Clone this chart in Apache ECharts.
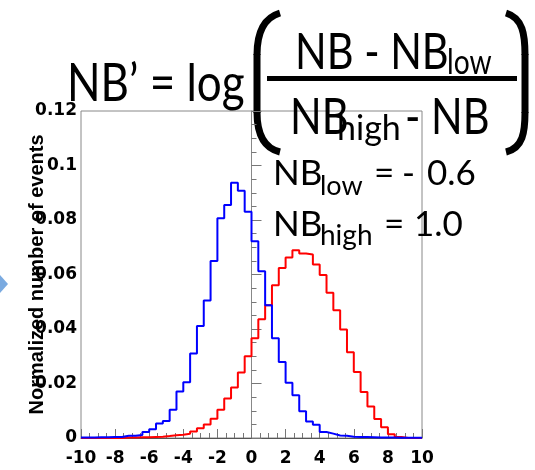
<!DOCTYPE html>
<html>
<head>
<meta charset="utf-8">
<script src="https://cdn.jsdelivr.net/npm/echarts@6/dist/echarts.min.js"></script>
<style>html,body{margin:0;padding:0;background:#fff;}#c{width:535px;height:470px;}</style>
</head>
<body>
<div id="c"></div>
<script>
// Bin edges of the histograms (x axis, NB')
const binEdges = [-10,-9.6,-9.2,-8.8,-8.4,-8,-7.6,-7.2,-6.8,-6.4,-6,-5.6,-5.2,-4.8,-4.4,-4,-3.6,-3.2,-2.8,-2.4,-2,-1.6,-1.2,-0.8,-0.4,0,0.4,0.8,1.2,1.6,2,2.4,2.8,3.2,3.6,4,4.4,4.8,5.2,5.6,6,6.4,6.8,7.2,7.6,8,8.4,8.8,9.2,9.6,10];
// Blue histogram (normalized number of events per bin)
const blueValues = [0.0002,0.0002,0.0003,0.0003,0.0004,0.0004,0.0008,0.0008,0.0011,0.0022,
  0.0032,0.0053,0.0062,0.0104,0.0171,0.0205,0.0310,0.0411,0.0505,0.0650,
  0.0806,0.0855,0.0937,0.0907,0.0830,0.0722,0.0612,0.0487,0.0366,0.0279,
  0.0203,0.0157,0.0098,0.0061,0.0049,0.0022,0.0016,0.0009,0.0008,0.0005,
  0.0004,0.0004,0.0003,0.0002,0.0002,0.0002,0.0001,0.0001,0.0001,0.0001];
// Red histogram
const redValues = [0,0,0,0,0,0,0.0002,0.0002,0.0003,0.0003,
  0.0004,0.0005,0.0007,0.0010,0.0012,0.0016,0.0024,0.0036,0.0050,0.0071,
  0.0104,0.0145,0.0185,0.0240,0.0300,0.0366,0.0436,0.0487,0.0561,0.0624,
  0.0662,0.0689,0.0677,0.0673,0.0637,0.0598,0.0533,0.0469,0.0398,0.0315,
  0.0242,0.0169,0.0116,0.0070,0.0039,0.0014,0.0004,0,0,0];
const yTicks = [0, 0.02, 0.04, 0.06, 0.08, 0.1, 0.12];
const xTicks = [-10,-8,-6,-4,-2,0,2,4,6,8,10];
const yTitle = 'Normalized number of events';

function stepData(vals) {
  const d = vals.map((v, i) => [binEdges[i], v]);
  d.push([binEdges[binEdges.length - 1], vals[vals.length - 1]]);
  return d;
}

const chart = echarts.init(document.getElementById('c'), null, {renderer: 'canvas'});
const tickFont = {fontFamily: 'DejaVu Sans', fontWeight: 'bold', fontSize: 17, color: '#000'};
const fF = 'Lato';
function txt(x, y, s, size, sx) {
  return {type: 'text', x: x, y: y, scaleX: sx, z: 0, style: {text: s, fontFamily: fF, fontSize: size, fill: '#000', align: 'left', verticalAlign: 'middle'}};
}
function bracket(xTip, xBar, dir) {
  const st = {stroke: '#000', lineWidth: 7, fill: null};
  return [
    {type: 'bezierCurve', z: 0, shape: {x1: xTip, y1: 13, x2: xBar, y2: 55, cpx1: xTip - dir * 17, cpy1: 18, cpx2: xBar, cpy2: 35}, style: st},
    {type: 'line', z: 0, shape: {x1: xBar, y1: 54, x2: xBar, y2: 113}, style: st},
    {type: 'bezierCurve', z: 0, shape: {x1: xBar, y1: 112, x2: xTip, y2: 152, cpx1: xBar, cpy1: 132, cpx2: xTip - dir * 17, cpy2: 148}, style: st}
  ];
}
chart.setOption({
  animation: false,
  backgroundColor: '#fff',
  grid: {left: 81, top: 111, width: 341, height: 327, show: true, borderColor: '#888', borderWidth: 1, backgroundColor: 'transparent'},
  xAxis: {
    type: 'value', min: xTicks[0], max: xTicks[xTicks.length - 1], interval: 2,
    axisLine: {show: true, onZero: false, lineStyle: {color: '#555', width: 1}},
    axisTick: {show: true, inside: true, length: 9, lineStyle: {color: '#777'}},
    minorTick: {show: true, splitNumber: 4, length: 5, lineStyle: {color: '#777'}},
    splitLine: {show: false},
    axisLabel: Object.assign({margin: 12, formatter: v => String(v)}, tickFont)
  },
  yAxis: {
    type: 'value', min: yTicks[0], max: yTicks[yTicks.length - 1], interval: 0.02,
    name: yTitle, nameLocation: 'middle', nameRotate: 90, nameGap: 34, nameMoveOverlap: false,
    nameTextStyle: {fontFamily: 'Liberation Sans', fontWeight: 'bold', fontSize: 20, color: '#000'},
    axisLine: {show: true, lineStyle: {color: '#888', width: 1}},
    axisTick: {show: true, inside: true, length: 10, lineStyle: {color: '#777'}},
    minorTick: {show: true, splitNumber: 4, length: 5, lineStyle: {color: '#777'}},
    splitLine: {show: false},
    axisLabel: Object.assign({margin: 4, formatter: v => String(+v.toFixed(2))}, tickFont)
  },
  series: [
    {type: 'line', step: 'end', showSymbol: false, data: stepData(redValues), lineStyle: {color: '#ff0000', width: 2}, itemStyle: {color: '#ff0000'}, z: 3},
    {type: 'line', step: 'end', showSymbol: false, data: stepData(blueValues), lineStyle: {color: '#0000ff', width: 2}, itemStyle: {color: '#0000ff'}, z: 4}
  ],
  graphic: [
    {type: 'polygon', z: 0, shape: {points: [[0, 275], [8, 284], [0, 293]]}, style: {fill: '#7aaae0'}},
    txt(67, 84, 'NB\u2019 = log', 53, 0.83)
  ].concat(bracket(280, 257, 1), bracket(506, 525, -1), [
    txt(295, 53, 'NB - NB', 50, 0.83),
    txt(447, 63, 'low', 34, 0.83),
    {type: 'rect', z: 0, shape: {x: 267, y: 76, width: 250, height: 5}, style: {fill: '#000'}},
    txt(290, 118, 'NB', 50, 0.83),
    txt(337, 129, 'high', 34, 1.0),
    txt(405, 118, '- NB', 50, 0.83),
    txt(273, 174, 'NB', 35, 1.0),
    txt(320, 186, 'low', 27, 1.0),
    txt(374, 174, '=', 35, 1.0),
    txt(402, 174, '-', 35, 1.0),
    txt(427, 174, '0.6', 35, 1.0),
    txt(273, 225, 'NB', 35, 1.0),
    txt(320, 236, 'high', 28, 1.0),
    txt(384, 225, '=', 35, 1.0),
    txt(414, 225, '1.0', 35, 1.0)
  ])
});
</script>
</body>
</html>
